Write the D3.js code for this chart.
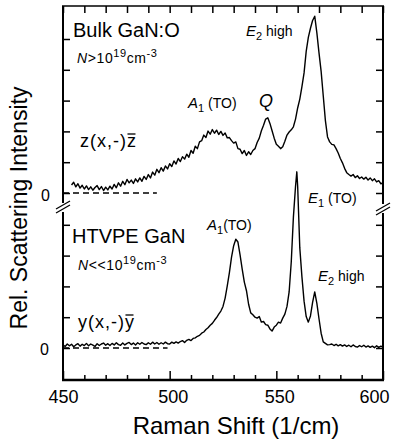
<!DOCTYPE html>
<html><head><meta charset="utf-8">
<script src="https://cdn.jsdelivr.net/npm/d3@7"></script>
<style>
html,body{margin:0;padding:0;background:#fff;}
svg{display:block;font-family:"Liberation Sans",Arial,Helvetica,sans-serif;}
</style>
</head><body>
<svg id="c" width="394" height="440"></svg>
<script>
// ---------- data ----------
const xMajor = [450, 500, 550, 600];
const xMinor = [460, 470, 480, 490, 510, 520, 530, 540, 560, 570, 580, 590];
const yTicksUpper = [0, 1, 2, 3, 4, 5];
const yTicksLower = [0, 1, 2, 3, 4];
const upperBaseline = [450, 494];
const lowerBaseline = [450, 499];

// Bulk GaN:O, z(x,-)z̄  (wavenumber, relative intensity)
const upperSpectrum = [
[454,0.26],[455,0.35],[456,0.20],[457,0.30],[458,0.16],[459,0.25],[460,0.13],[461,0.23],[462,0.11],[463,0.20],
[464,0.09],[465,0.18],[466,0.24],[467,0.11],[468,0.21],[469,0.08],[470,0.19],[471,0.10],[472,0.22],[473,0.13],
[474,0.28],[475,0.17],[476,0.33],[477,0.22],[478,0.38],[479,0.27],[480,0.44],[481,0.33],[482,0.42],[483,0.31],
[484,0.46],[485,0.36],[486,0.49],[487,0.38],[488,0.54],[489,0.44],[490,0.60],[491,0.49],[492,0.68],[493,0.58],
[494,0.77],[495,0.66],[496,0.82],[497,0.71],[498,0.88],[499,0.78],[500,0.95],[501,0.86],[502,1.04],[503,0.94],
[504,1.12],[505,1.02],[506,1.18],[507,1.10],[508,1.26],[509,1.16],[510,1.38],[511,1.29],[512,1.52],[513,1.44],
[514,1.66],[515,1.70],[516,1.88],[517,1.80],[518,2.01],[519,1.91],[520,2.06],[521,1.94],[522,2.04],[523,1.90],
[524,2.00],[525,1.87],[526,1.95],[527,1.79],[528,1.80],[529,1.70],[530,1.62],[531,1.66],[532,1.44],[533,1.42],
[534,1.28],[535,1.38],[536,1.22],[537,1.34],[538,1.25],[539,1.38],[540,1.44],[541,1.64],[542,1.78],[543,2.02],
[544,2.20],[545,2.40],[546,2.44],[547,2.26],[548,2.02],[549,1.78],[550,1.58],[551,1.52],[552,1.44],[553,1.50],
[554,1.68],[555,1.88],[556,1.98],[557,2.05],[558,2.15],[559,2.40],[560,2.76],[561,3.05],[562,3.45],[563,3.90],
[564,4.60],[565,5.05],[566,5.35],[567,5.60],[568,5.74],[569,5.20],[570,4.55],[571,3.95],[572,3.15],[573,2.35],
[574,1.82],[575,1.66],[576,1.58],[577,1.56],[578,1.44],[579,1.30],[580,1.12],[581,0.98],[582,0.80],[583,0.66],
[584,0.60],[585,0.55],[586,0.60],[587,0.50],[588,0.56],[589,0.47],[590,0.52],[591,0.45],[592,0.51],[593,0.42],
[594,0.49],[595,0.40],[596,0.46],[597,0.36],[598,0.40],[599,0.30],[600,0.33]
];

// HTVPE GaN, y(x,-)ȳ
const lowerSpectrum = [
[450,0.10],[451,0.05],[452,0.13],[453,0.07],[454,0.12],[455,0.04],[456,0.10],[457,0.14],[458,0.06],[459,0.12],
[460,0.08],[461,0.15],[462,0.07],[463,0.13],[464,0.09],[465,0.05],[466,0.14],[467,0.08],[468,0.13],[469,0.16],
[470,0.09],[471,0.14],[472,0.08],[473,0.15],[474,0.10],[475,0.17],[476,0.11],[477,0.09],[478,0.16],[479,0.10],
[480,0.15],[481,0.18],[482,0.11],[483,0.16],[484,0.10],[485,0.17],[486,0.12],[487,0.18],[488,0.13],[489,0.11],
[490,0.17],[491,0.12],[492,0.19],[493,0.13],[494,0.18],[495,0.12],[496,0.17],[497,0.13],[498,0.19],[499,0.14],
[500,0.13],[501,0.19],[502,0.15],[503,0.20],[504,0.16],[505,0.21],[506,0.24],[507,0.18],[508,0.25],[509,0.28],
[510,0.24],[511,0.31],[512,0.33],[513,0.38],[514,0.41],[515,0.48],[516,0.52],[517,0.60],[518,0.66],[519,0.74],
[520,0.80],[521,0.90],[522,0.99],[523,1.10],[524,1.20],[525,1.35],[526,1.62],[527,2.02],[528,2.45],[529,2.95],
[530,3.32],[531,3.53],[532,3.44],[533,3.02],[534,2.56],[535,2.14],[536,1.86],[537,1.42],[538,1.14],[539,1.08],
[540,1.00],[541,0.97],[542,1.02],[543,0.84],[544,0.86],[545,0.76],[546,0.74],[547,0.62],[548,0.55],[549,0.68],
[550,0.74],[551,0.84],[552,0.81],[553,0.97],[554,1.10],[555,1.35],[556,1.82],[557,2.80],[558,4.25],[559,5.25],
[559.6,5.72],[560,5.25],[561,3.25],[562,2.31],[563,1.52],[564,1.02],[565,0.84],[566,1.04],[567,1.48],[568,1.82],
[569,1.45],[570,0.95],[571,0.48],[572,0.20],[573,0.15],[574,0.10],[575,0.11],[576,0.13],[577,0.08],[578,0.12],
[579,0.07],[580,0.11],[581,0.06],[582,0.10],[583,0.05],[584,0.09],[585,0.04],[586,0.10],[587,0.05],[588,0.03],
[589,0.08],[590,0.04],[591,0.09],[592,0.03],[593,0.07],[594,0.02],[595,0.06],[596,0.01],[597,0.07],[598,0.02],
[599,0.06],[600,0.03]
];

// ---------- layout ----------
const L = 63, R = 383, T = 6, B = 380;
const svg = d3.select("#c");
svg.append("rect").attr("width",394).attr("height",440).attr("fill","#fff");

const x = d3.scaleLinear().domain([450, 600]).range([L, R]);
const yU = d3.scaleLinear().domain([0, 6]).range([193, 8.2]);
const yL = d3.scaleLinear().domain([0, 6]).range([348, 163.2]);

const allX = xMajor.concat(xMinor);
function clean(g){ g.select(".domain").remove(); g.selectAll(".tick line").attr("stroke","#000").attr("stroke-width",1.5); }

// top ticks
svg.append("g").attr("transform",`translate(0,${T})`)
  .call(d3.axisTop(x).tickValues(allX).tickSize(-7).tickFormat(""))
  .call(clean);

// bottom ticks + labels
const gb = svg.append("g").attr("transform",`translate(0,${B})`)
  .call(d3.axisBottom(x).tickValues(allX).tickSize(-5).tickPadding(10)
        .tickFormat(d => xMajor.includes(d) ? String(d) : ""))
  .call(clean);
gb.selectAll(".tick").filter(d => xMajor.includes(d)).select("line").attr("y2",-9);
gb.selectAll(".tick text").attr("font-size",18).attr("fill","#000")
  .attr("font-family",'"Liberation Sans",Arial,sans-serif')
  .attr("dx", d => d===600 ? -9 : (d===450 ? 0 : 3));

// left / right ticks
svg.append("g").attr("transform",`translate(${L},0)`)
  .call(d3.axisLeft(yU).tickValues(yTicksUpper).tickSize(-7).tickFormat("")).call(clean);
svg.append("g").attr("transform",`translate(${L},0)`)
  .call(d3.axisLeft(yL).tickValues(yTicksLower).tickSize(-7).tickFormat("")).call(clean);
svg.append("g").attr("transform",`translate(${R},0)`)
  .call(d3.axisRight(yU).tickValues(yTicksUpper).tickSize(-7).tickFormat("")).call(clean);
svg.append("g").attr("transform",`translate(${R},0)`)
  .call(d3.axisRight(yL).tickValues(yTicksLower).tickSize(-7).tickFormat("")).call(clean);

// frame with axis breaks
const frame = svg.append("g").attr("stroke","#000").attr("stroke-width",2).attr("fill","none");
frame.append("line").attr("x1",L-1).attr("x2",R+1).attr("y1",T).attr("y2",T).attr("stroke-width",1.6);
frame.append("line").attr("x1",L-1).attr("x2",R+1).attr("y1",B).attr("y2",B).attr("stroke-width",2.4);
frame.append("line").attr("x1",L).attr("x2",L).attr("y1",T).attr("y2",203);
frame.append("line").attr("x1",L).attr("x2",L).attr("y1",212).attr("y2",B);
frame.append("line").attr("x1",R).attr("x2",R).attr("y1",T).attr("y2",204);
frame.append("line").attr("x1",R).attr("x2",R).attr("y1",213).attr("y2",B);
const brk = svg.append("g").attr("stroke","#000").attr("stroke-width",1.3);
[[L,207],[R,209]].forEach(([cx,cy])=>{
  brk.append("line").attr("x1",cx-7).attr("y1",cy+2).attr("x2",cx+7).attr("y2",cy-6);
  brk.append("line").attr("x1",cx-7).attr("y1",cy+6).attr("x2",cx+7).attr("y2",cy-2);
});

// zero baselines (dashed)
svg.append("line").attr("x1",x(upperBaseline[0])).attr("x2",x(upperBaseline[1]))
  .attr("y1",yU(0)).attr("y2",yU(0)).attr("stroke","#000").attr("stroke-width",1.3).attr("stroke-dasharray","6,4");
svg.append("line").attr("x1",x(lowerBaseline[0])).attr("x2",x(lowerBaseline[1]))
  .attr("y1",yL(0)).attr("y2",yL(0)).attr("stroke","#000").attr("stroke-width",1.3).attr("stroke-dasharray","6,4");

// spectra
svg.append("path").datum(upperSpectrum)
  .attr("d", d3.line().x(d=>x(d[0])).y(d=>yU(d[1])))
  .attr("fill","none").attr("stroke","#000").attr("stroke-width",1.4).attr("stroke-linejoin","round");
svg.append("path").datum(lowerSpectrum)
  .attr("d", d3.line().x(d=>x(d[0])).y(d=>yL(d[1])))
  .attr("fill","none").attr("stroke","#000").attr("stroke-width",1.4).attr("stroke-linejoin","round");

// ---------- text ----------
const txt = svg.append("g").attr("fill","#000");
// zero labels
txt.append("text").attr("x",50).attr("y",yU(0)+8).attr("text-anchor","end").attr("font-size",16).text("0");
txt.append("text").attr("x",49).attr("y",yL(0)+7).attr("text-anchor","end").attr("font-size",16).text("0");

// axis titles
txt.append("text").attr("x",236).attr("y",434).attr("text-anchor","middle").attr("font-size",24)
  .text("Raman Shift (1/cm)");
txt.append("text").attr("transform","translate(27,208) rotate(-90)").attr("text-anchor","middle")
  .attr("font-size",23).text("Rel. Scattering Intensity");

// sample titles
txt.append("text").attr("x",73).attr("y",37).attr("font-size",20).text("Bulk GaN:O");
txt.append("text").attr("x",72).attr("y",243).attr("font-size",20).text("HTVPE GaN");

function concLabel(x0,y0,rel){
  const t = txt.append("text").attr("x",x0).attr("y",y0).attr("font-size",14).attr("letter-spacing",0.6);
  t.append("tspan").attr("font-style","italic").text("N");
  t.append("tspan").text(rel+"10");
  t.append("tspan").attr("font-size",11).attr("dy",-6).text("19");
  t.append("tspan").attr("dy",6).text("cm");
  t.append("tspan").attr("font-size",11).attr("dy",-6).text("-3");
}
concLabel(77,63,">");
concLabel(78,270,"<<");

function geomLabel(x0,y0,s){
  const t = txt.append("text").attr("x",x0).attr("y",y0).attr("font-size",18).attr("letter-spacing",1).text(s);
  const n = s.length;
  const e = t.node().getExtentOfChar(n-1);
  txt.append("line").attr("x1",e.x+0.5).attr("x2",e.x+e.width-1.5).attr("y1",y0-13).attr("y2",y0-13)
    .attr("stroke","#000").attr("stroke-width",1.3);
}
geomLabel(80,147,"z(x,-)z");
geomLabel(78,328,"y(x,-)y");

function peakLabel(x0,y0,main,sub,rest,size){
  const t = txt.append("text").attr("x",x0).attr("y",y0).attr("font-size",size);
  t.append("tspan").attr("font-style","italic").attr("font-size",size+1).text(main);
  t.append("tspan").attr("font-size",size-3).attr("dy",4).text(sub);
  t.append("tspan").attr("dy",-4).text(rest);
}
peakLabel(188,108,"A","1"," (TO)",14);
peakLabel(246,36,"E","2"," high",14);
peakLabel(207,230,"A","1","(TO)",14);
peakLabel(308,203,"E","1"," (TO)",14);
peakLabel(318,281,"E","2"," high",14);
txt.append("text").attr("x",259).attr("y",107).attr("font-size",18).attr("font-style","italic").text("Q");
</script>
</body></html>
